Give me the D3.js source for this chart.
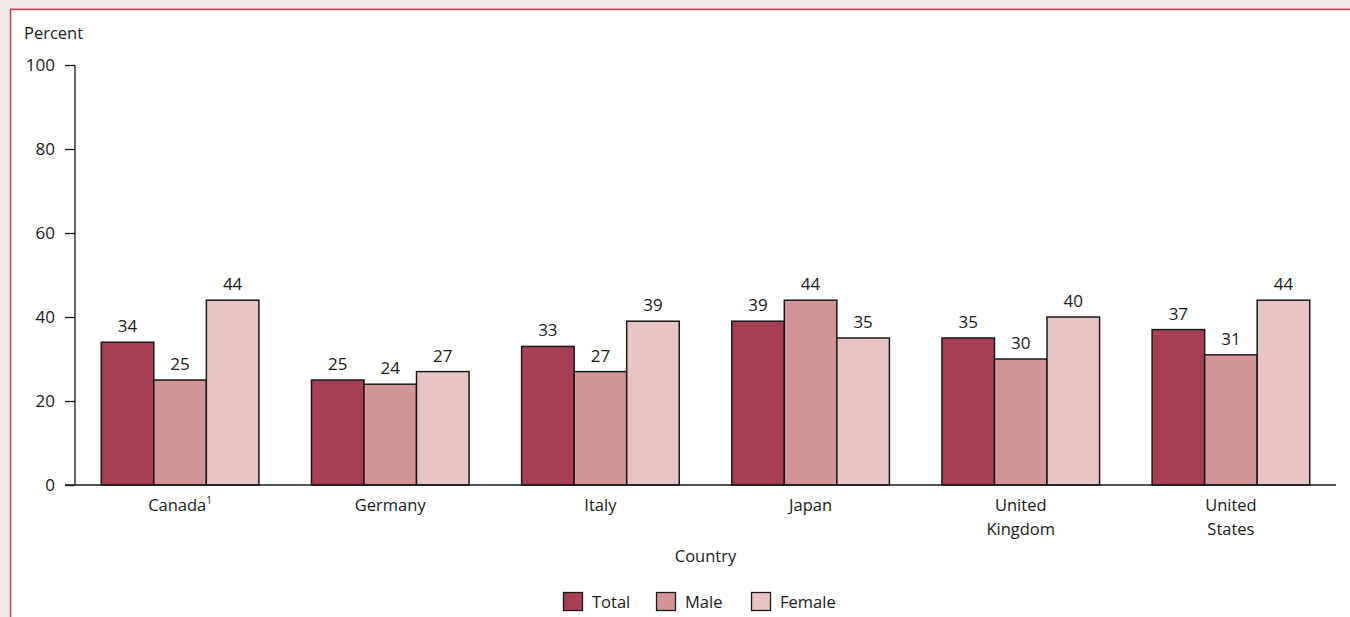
<!DOCTYPE html>
<html>
<head>
<meta charset="utf-8">
<script src="https://cdn.jsdelivr.net/npm/d3@7"></script>
<style>
  html, body { margin: 0; padding: 0; background: #f3e8e8; }
  svg { display: block; }
  text { font-family: "Open Sans", "Noto Sans", sans-serif; fill: #1a1a1a; }
</style>
</head>
<body>
<svg id="chart" width="1350" height="617"></svg>
<script>
const countries = ["Canada", "Germany", "Italy", "Japan", "United Kingdom", "United States"];
const countryLines = [["Canada"], ["Germany"], ["Italy"], ["Japan"], ["United", "Kingdom"], ["United", "States"]];
const seriesNames = ["Total", "Male", "Female"];
const totalValues = [34, 25, 33, 39, 35, 37];
const maleValues = [25, 24, 27, 44, 30, 31];
const femaleValues = [44, 27, 39, 35, 40, 44];
const yTicks = [0, 20, 40, 60, 80, 100];
const colors = ["#a83e51", "#d39496", "#e8c4c3"];

const seriesValues = [totalValues, maleValues, femaleValues];

const svg = d3.select("#chart");

// panel
svg.append("rect").attr("x", 0).attr("y", 0).attr("width", 1350).attr("height", 617).attr("fill", "#f3e8e8");
svg.append("line").attr("x1", 10).attr("x2", 1350).attr("y1", 8.5).attr("y2", 8.5).attr("stroke", "#e2b9bf").attr("stroke-width", 1);
svg.append("rect").attr("x", 10.5).attr("y", 9.5).attr("width", 1345).attr("height", 620)
  .attr("fill", "#ffffff").attr("stroke", "#b8475b").attr("stroke-width", 1.5);

const mLeft = 75, mRight = 1336, mTop = 65, mBottom = 485;

const x0 = d3.scaleBand().domain(countries).range([mLeft, mRight]).paddingInner(0.25).paddingOuter(0.125);
const x1 = d3.scaleBand().domain(seriesNames).range([0, x0.bandwidth()]);
const y = d3.scaleLinear().domain([0, 100]).range([mBottom, mTop]);

// y axis
const yAxis = svg.append("g").attr("transform", `translate(${mLeft},0)`)
  .call(d3.axisLeft(y).tickValues(yTicks).tickSize(10).tickPadding(10));
yAxis.select(".domain").attr("stroke", "#1a1a1a").attr("stroke-width", 1.3).attr("d", `M0,${mTop}V${mBottom}`);
yAxis.selectAll(".tick line").attr("stroke", "#1a1a1a").attr("stroke-width", 1.3);
yAxis.selectAll(".tick text").attr("font-size", 17).attr("font-family", "Open Sans, Noto Sans, sans-serif").attr("fill", "#1a1a1a");

svg.append("text").attr("x", 24).attr("y", 39).attr("font-size", 16.5).text("Percent");

// bars
const data = [];
countries.forEach((c, i) => {
  seriesNames.forEach((s, j) => {
    data.push({ country: c, series: s, value: seriesValues[j][i], color: colors[j] });
  });
});

svg.append("g").selectAll("rect").data(data).join("rect")
  .attr("x", d => x0(d.country) + x1(d.series))
  .attr("y", d => y(d.value))
  .attr("width", x1.bandwidth())
  .attr("height", d => y(0) - y(d.value))
  .attr("fill", d => d.color)
  .attr("stroke", "#1a1a1a")
  .attr("stroke-width", 1.5);

svg.append("g").selectAll("text").data(data).join("text")
  .attr("x", d => x0(d.country) + x1(d.series) + x1.bandwidth() / 2)
  .attr("y", d => y(d.value) - 10)
  .attr("text-anchor", "middle")
  .attr("font-size", 17)
  .text(d => d.value);

// x axis baseline
svg.append("line").attr("x1", mLeft - 10).attr("x2", mRight).attr("y1", mBottom).attr("y2", mBottom)
  .attr("stroke", "#1a1a1a").attr("stroke-width", 1.3);

// category labels
countries.forEach((c, i) => {
  const cx = x0(c) + x0.bandwidth() / 2;
  const t = svg.append("text").attr("x", cx).attr("y", 511).attr("text-anchor", "middle").attr("font-size", 16.5);
  countryLines[i].forEach((line, k) => {
    t.append("tspan").attr("x", cx).attr("dy", k === 0 ? 0 : 24).text(line);
  });
  if (c === "Canada") {
    t.append("tspan").attr("font-size", 10).attr("dy", -7).text("1");
  }
});

svg.append("text").attr("x", (mLeft + mRight) / 2).attr("y", 562).attr("text-anchor", "middle").attr("font-size", 16.5).text("Country");

// legend
const legendX = [563, 656, 751];
seriesNames.forEach((s, j) => {
  const g = svg.append("g").attr("transform", `translate(${legendX[j]},592)`);
  g.append("rect").attr("x", 0.5).attr("y", 0.5).attr("width", 19).attr("height", 18)
    .attr("fill", colors[j]).attr("stroke", "#1a1a1a").attr("stroke-width", 1.3);
  g.append("text").attr("x", 29).attr("y", 16).attr("font-size", 16.5).text(s);
});
</script>
</body>
</html>
